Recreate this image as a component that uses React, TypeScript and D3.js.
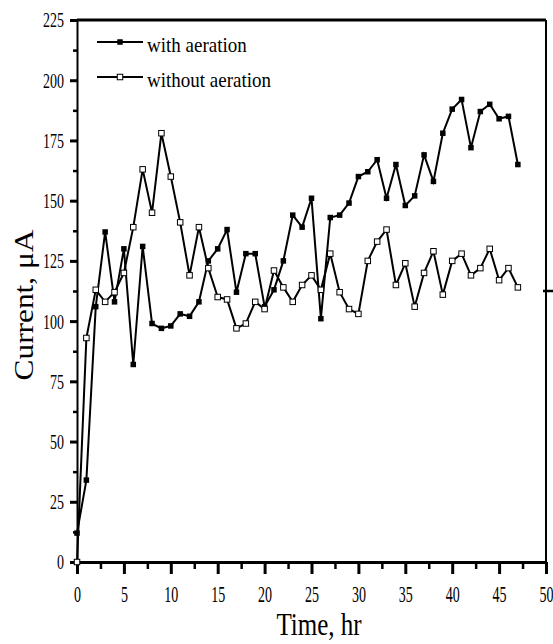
import React, { useEffect, useRef } from 'react';
import * as d3 from 'd3';

// hours of operation
const hours = [
  0, 1, 2, 3, 4, 5, 6, 7, 8, 9, 10, 11, 12, 13, 14, 15, 16, 17, 18, 19, 20, 21, 22, 23,
  24, 25, 26, 27, 28, 29, 30, 31, 32, 33, 34, 35, 36, 37, 38, 39, 40, 41, 42, 43, 44, 45, 46, 47,
];

// current (uA)
const withAeration = [
  12, 34, 106, 137, 108, 130, 82, 131, 99, 97, 98, 103, 102, 108, 125, 130, 138, 112, 128, 128,
  106, 113, 125, 144, 139, 151, 101, 143, 144, 149, 160, 162, 167, 151, 165, 148, 152, 169, 158, 178,
  188, 192, 172, 187, 190, 184, 185, 165,
];
const withoutAeration = [
  0, 93, 113, 108, 112, 120, 139, 163, 145, 178, 160, 141, 119, 139, 122, 110, 109, 97, 99, 108,
  105, 121, 114, 108, 115, 119, 113, 128, 112, 105, 103, 125, 133, 138, 115, 124, 106, 120, 129, 111,
  125, 128, 119, 122, 130, 117, 122, 114,
];

const seriesNames = ['with aeration', 'without aeration'];
const xTicks = [0, 5, 10, 15, 20, 25, 30, 35, 40, 45, 50];
const xMinorTicks = [2.5, 7.5, 12.5, 17.5, 22.5, 27.5, 32.5, 37.5, 42.5, 47.5];
const yTicks = [0, 25, 50, 75, 100, 125, 150, 175, 200, 225];
const yMinorTicks = [12.5, 37.5, 62.5, 87.5, 112.5, 137.5, 162.5, 187.5, 212.5];

const FONT = "'Liberation Serif', 'Times New Roman', serif";

const App: React.FC = () => {
  const svgRef = useRef<SVGSVGElement | null>(null);

  useEffect(() => {
    if (!svgRef.current) return;
    const width = 553;
    const height = 644;
    const left = 77, right = 546, top = 20, bottom = 562;

    const x = d3.scaleLinear().domain([0, 50]).range([left, right]);
    const y = d3.scaleLinear().domain([0, 225]).range([bottom, top]);

    const svg = d3.select(svgRef.current)
      .attr('width', width)
      .attr('height', height)
      .attr('viewBox', `0 0 ${width} ${height}`);
    svg.selectAll('*').remove();

    svg.append('rect').attr('width', width).attr('height', height).attr('fill', '#fff');

    // frame: top and right
    svg.append('line')
      .attr('x1', left).attr('x2', right).attr('y1', top).attr('y2', top)
      .attr('stroke', '#000').attr('stroke-width', 3);
    svg.append('line')
      .attr('x1', right).attr('x2', right).attr('y1', top).attr('y2', bottom)
      .attr('stroke', '#000').attr('stroke-width', 2);
    // stray tick on the right border
    svg.append('line')
      .attr('x1', right - 3).attr('x2', 553).attr('y1', y(112.5)).attr('y2', y(112.5))
      .attr('stroke', '#000').attr('stroke-width', 2.5);

    // y axis
    const yAxis = svg.append('g').attr('transform', `translate(${left},0)`)
      .call(d3.axisLeft(y).tickValues(yTicks).tickSize(7).tickSizeOuter(0));
    svg.append('g').attr('class', 'minor').attr('transform', `translate(${left},0)`)
      .call(d3.axisLeft(y).tickValues(yMinorTicks).tickSize(4).tickSizeOuter(0).tickFormat(() => ''))
      .call(g => g.select('.domain').remove());
    yAxis.select('.domain').attr('stroke-width', 2);

    // x axis
    const xAxis = svg.append('g').attr('transform', `translate(0,${bottom})`)
      .call(d3.axisBottom(x).tickValues(xTicks).tickSize(12).tickSizeOuter(0));
    svg.append('g').attr('class', 'minor').attr('transform', `translate(0,${bottom})`)
      .call(d3.axisBottom(x).tickValues(xMinorTicks).tickSize(7).tickSizeOuter(0).tickFormat(() => ''))
      .call(g => g.select('.domain').remove());
    xAxis.select('.domain').attr('stroke-width', 3);

    svg.selectAll('.tick line').attr('stroke', '#000').attr('stroke-width', 3);
    svg.selectAll('.minor .tick line').attr('stroke-width', 2.5);

    yAxis.selectAll<SVGTextElement, number>('text')
      .attr('x', null).attr('dy', '0.34em')
      .attr('transform', 'translate(-13,0) scale(1,1.45)')
      .attr('font-family', FONT).attr('font-size', 14).attr('fill', '#000');
    xAxis.selectAll<SVGTextElement, number>('text')
      .attr('y', null).attr('dy', null)
      .attr('transform', 'translate(0,39.5) scale(1,1.65)')
      .attr('font-family', FONT).attr('font-size', 14).attr('fill', '#000');

    // series
    const line = d3.line<number>().x((_, i) => x(hours[i])).y(d => y(d));
    const plot = svg.append('g');
    plot.append('path').datum(withAeration).attr('d', line)
      .attr('fill', 'none').attr('stroke', '#000').attr('stroke-width', 2);
    plot.append('path').datum(withoutAeration).attr('d', line)
      .attr('fill', 'none').attr('stroke', '#000').attr('stroke-width', 2);

    const ms = 5.5;
    plot.selectAll('rect.filled').data(withAeration).join('rect')
      .attr('class', 'filled')
      .attr('x', (_, i) => x(hours[i]) - ms / 2).attr('y', d => y(d) - ms / 2)
      .attr('width', ms).attr('height', ms).attr('fill', '#000');
    plot.selectAll('rect.open').data(withoutAeration).join('rect')
      .attr('class', 'open')
      .attr('x', (_, i) => x(hours[i]) - ms / 2).attr('y', d => y(d) - ms / 2)
      .attr('width', ms).attr('height', ms).attr('fill', '#fff')
      .attr('stroke', '#000').attr('stroke-width', 1);

    // legend
    const legend = svg.append('g');
    seriesNames.forEach((name, i) => {
      const ly = 42 + i * 35;
      legend.append('line').attr('x1', 97).attr('x2', 143).attr('y1', ly).attr('y2', ly)
        .attr('stroke', '#000').attr('stroke-width', 2);
      legend.append('rect').attr('x', 120 - ms / 2).attr('y', ly - ms / 2)
        .attr('width', ms).attr('height', ms)
        .attr('fill', i === 0 ? '#000' : '#fff')
        .attr('stroke', '#000').attr('stroke-width', i === 0 ? 0 : 1);
      legend.append('text')
        .attr('transform', `translate(147,${ly + 10}) scale(1,1.15)`)
        .attr('font-family', FONT).attr('font-size', 19)
        .text(name);
    });

    // axis titles
    svg.append('text')
      .attr('transform', 'translate(319,635) scale(1,1.3)')
      .attr('text-anchor', 'middle')
      .attr('font-family', FONT).attr('font-size', 25)
      .text('Time, hr');
    svg.append('text')
      .attr('transform', 'translate(33,305) rotate(-90) scale(1.12,1)')
      .attr('text-anchor', 'middle')
      .attr('font-family', FONT).attr('font-size', 28)
      .text('Current, \u03bcA');
  }, []);

  return <svg ref={svgRef} style={{ position: 'absolute', left: 0, top: 0 }}></svg>;
};

export default App;
